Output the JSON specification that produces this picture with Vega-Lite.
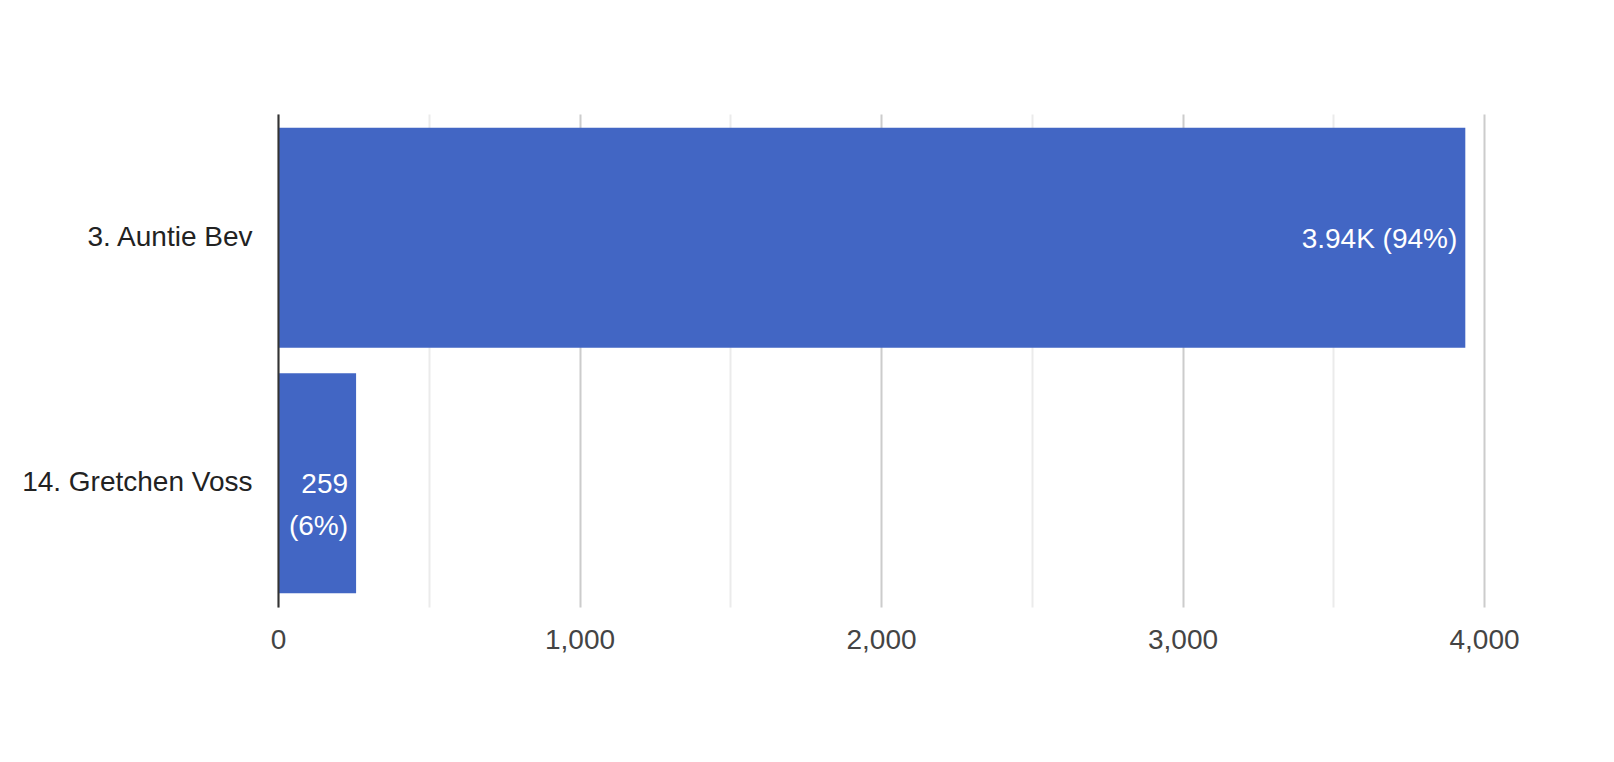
{
  "$schema": "https://vega.github.io/schema/vega-lite/v6.json",
  "autosize": {"type": "none"},
  "padding": {"left": 278, "top": 114, "right": 130, "bottom": 155},
  "width": 1206,
  "height": 493,
  "background": "#ffffff",
  "config": {
    "view": {"stroke": null},
    "font": "Liberation Sans"
  },
  "data": {
    "values": [
      {"name": "3. Auntie Bev", "value": 3938, "label": "3.94K (94%)"},
      {"name": "14. Gretchen Voss", "value": 259, "label": "259\n(6%)"}
    ]
  },
  "encoding": {
    "y": {
      "field": "name",
      "type": "nominal",
      "sort": null,
      "scale": {"paddingInner": 0.104, "paddingOuter": 0.056},
      "axis": {
        "title": null,
        "ticks": false,
        "tickSize": 0,
        "labelPadding": 26,
        "labelFontSize": 28,
        "labelLimit": 0,
        "labelColor": "#222222",
        "labelFont": "Liberation Sans",
        "domain": true,
        "domainColor": "#333333",
        "domainWidth": 2,
        "grid": false,
        "zindex": 2
      }
    },
    "x": {
      "field": "value",
      "type": "quantitative",
      "scale": {"domain": [0, 4000], "nice": false},
      "axis": {
        "title": null,
        "values": [0, 500, 1000, 1500, 2000, 2500, 3000, 3500, 4000],
        "labelExpr": "datum.value % 1000 === 0 ? format(datum.value, ',') : ''",
        "ticks": false,
        "tickSize": 0,
        "domain": false,
        "labelPadding": 19,
        "labelFontSize": 28,
        "labelColor": "#444444",
        "labelFont": "Liberation Sans",
        "grid": true,
        "gridColor": {"condition": {"test": "datum.value % 1000 === 0", "value": "#cccccc"}, "value": "#ebebeb"},
        "gridWidth": 2,
        "labelFlush": false,
        "labelOverlap": false
      }
    }
  },
  "layer": [
    {
      "mark": {"type": "bar", "color": "#4266c4"}
    },
    {
      "mark": {
        "type": "text",
        "align": "right",
        "baseline": "alphabetic",
        "dx": -8,
        "dy": 10,
        "color": "#ffffff",
        "fontSize": 28,
        "font": "Liberation Sans",
        "lineBreak": "\n",
        "lineHeight": 42
      },
      "encoding": {
        "text": {"field": "label"}
      }
    }
  ]
}
